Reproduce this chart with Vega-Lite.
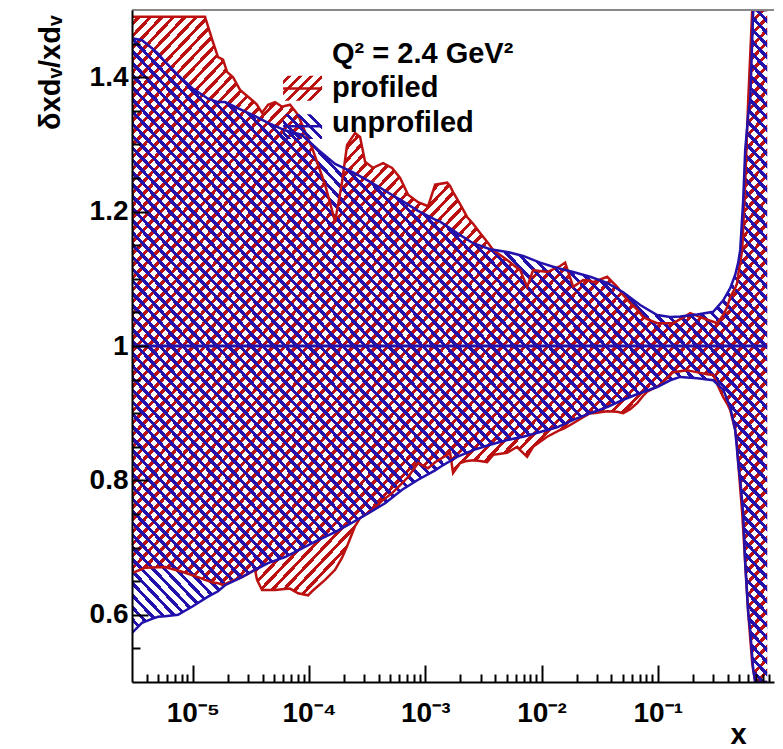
{
"$schema": "https://vega.github.io/schema/vega-lite/v6.json",
"width": 642, "height": 672,
"autosize": {"type": "none"},
"padding": {"left": 132, "top": 10, "right": 9, "bottom": 67},
"background": "white",
"config": {"view": {"stroke": null}, "font": "Liberation Sans"},
"datasets": {
"red": [
{"x":3.0e-6,"hi":1.490,"lo":0.662},{"x":3.880e-6,"hi":1.490,"lo":0.670},{"x":5.768e-6,"hi":1.490,"lo":0.671},{"x":8.080e-6,"hi":1.490,"lo":0.664},{"x":1.109e-5,"hi":1.490,"lo":0.656},{"x":1.274e-5,"hi":1.490,"lo":0.652},{"x":1.493e-5,"hi":1.452,"lo":0.648},{"x":1.649e-5,"hi":1.430,"lo":0.647},{"x":1.820e-5,"hi":1.426,"lo":0.644},{"x":1.971e-5,"hi":1.408,"lo":0.647},{"x":2.220e-5,"hi":1.400,"lo":0.651},{"x":2.550e-5,"hi":1.381,"lo":0.655},{"x":2.988e-5,"hi":1.371,"lo":0.661},{"x":3.432e-5,"hi":1.362,"lo":0.667},{"x":3.571e-5,"hi":1.359,"lo":0.652},{"x":3.942e-5,"hi":1.347,"lo":0.637},{"x":4.442e-5,"hi":1.359,"lo":0.637},{"x":5.100e-5,"hi":1.363,"lo":0.637},{"x":5.861e-5,"hi":1.356,"lo":0.638},{"x":6.866e-5,"hi":1.359,"lo":0.639},{"x":8.048e-5,"hi":1.344,"lo":0.632},{"x":9.809e-5,"hi":1.308,"lo":0.629},{"x":1.062e-4,"hi":1.295,"lo":0.635},{"x":1.374e-4,"hi":1.240,"lo":0.652},{"x":1.675e-4,"hi":1.185,"lo":0.667},{"x":1.924e-4,"hi":1.244,"lo":0.685},{"x":2.125e-4,"hi":1.299,"lo":0.702},{"x":2.490e-4,"hi":1.317,"lo":0.732},{"x":2.749e-4,"hi":1.311,"lo":0.744},{"x":3.035e-4,"hi":1.274,"lo":0.749},{"x":3.556e-4,"hi":1.265,"lo":0.757},{"x":4.337e-4,"hi":1.272,"lo":0.771},{"x":5.182e-4,"hi":1.265,"lo":0.781},{"x":6.074e-4,"hi":1.250,"lo":0.793},{"x":7.117e-4,"hi":1.225,"lo":0.805},{"x":8.676e-4,"hi":1.214,"lo":0.826},{"x":1.058e-3,"hi":1.208,"lo":0.818},{"x":1.215e-3,"hi":1.240,"lo":0.827},{"x":1.541e-3,"hi":1.243,"lo":0.838},{"x":1.635e-3,"hi":1.238,"lo":0.841},{"x":1.735e-3,"hi":1.229,"lo":0.811},{"x":1.994e-3,"hi":1.211,"lo":0.826},{"x":2.291e-3,"hi":1.192,"lo":0.829},{"x":2.580e-3,"hi":1.182,"lo":0.830},{"x":2.964e-3,"hi":1.168,"lo":0.829},{"x":3.405e-3,"hi":1.155,"lo":0.827},{"x":3.835e-3,"hi":1.143,"lo":0.838},{"x":5.060e-3,"hi":1.128,"lo":0.841},{"x":6.170e-3,"hi":1.116,"lo":0.850},{"x":6.547e-3,"hi":1.113,"lo":0.845},{"x":7.522e-3,"hi":1.088,"lo":0.835},{"x":8.474e-3,"hi":1.113,"lo":0.850},{"x":1.118e-2,"hi":1.110,"lo":0.865},{"x":1.447e-2,"hi":1.119,"lo":0.875},{"x":1.597e-2,"hi":1.124,"lo":0.878},{"x":1.872e-2,"hi":1.088,"lo":0.885},{"x":2.282e-2,"hi":1.098,"lo":0.894},{"x":2.622e-2,"hi":1.097,"lo":0.900},{"x":2.782e-2,"hi":1.095,"lo":0.900},{"x":3.671e-2,"hi":1.103,"lo":0.903},{"x":4.476e-2,"hi":1.088,"lo":0.902},{"x":5.040e-2,"hi":1.076,"lo":0.900},{"x":5.790e-2,"hi":1.064,"lo":0.906},{"x":6.652e-2,"hi":1.054,"lo":0.915},{"x":7.493e-2,"hi":1.043,"lo":0.926},{"x":8.111e-2,"hi":1.040,"lo":0.932},{"x":9.888e-2,"hi":1.034,"lo":0.940},{"x":0.1049,"hi":1.034,"lo":0.942},{"x":0.1358,"hi":1.034,"lo":0.961},{"x":0.1792,"hi":1.046,"lo":0.964},{"x":0.1901,"hi":1.049,"lo":0.963},{"x":0.2318,"hi":1.043,"lo":0.960},{"x":0.2663,"hi":1.039,"lo":0.958},{"x":0.3000,"hi":1.036,"lo":0.957},{"x":0.3247,"hi":1.034,"lo":0.943},{"x":0.3657,"hi":1.046,"lo":0.924},{"x":0.3958,"hi":1.058,"lo":0.914},{"x":0.4200,"hi":1.073,"lo":0.905},{"x":0.4638,"hi":1.086,"lo":0.875},{"x":0.4825,"hi":1.094,"lo":0.851},{"x":0.4922,"hi":1.106,"lo":0.826},{"x":0.5328,"hi":1.143,"lo":0.751},{"x":0.5653,"hi":1.243,"lo":0.677},{"x":0.6001,"hi":1.366,"lo":0.603},{"x":0.6496,"hi":1.5,"lo":0.528},{"x":0.6895,"hi":1.5,"lo":0.5},{"x":0.8745,"hi":1.5,"lo":0.5}
],
"blue": [
{"x":3.0e-6,"hi":1.458,"lo":0.573},{"x":3.656e-6,"hi":1.455,"lo":0.588},{"x":4.459e-6,"hi":1.443,"lo":0.594},{"x":5.020e-6,"hi":1.435,"lo":0.597},{"x":5.768e-6,"hi":1.423,"lo":0.598},{"x":7.463e-6,"hi":1.403,"lo":0.600},{"x":9.848e-6,"hi":1.384,"lo":0.612},{"x":1.352e-5,"hi":1.368,"lo":0.627},{"x":1.649e-5,"hi":1.363,"lo":0.635},{"x":1.894e-5,"hi":1.363,"lo":0.644},{"x":2.653e-5,"hi":1.351,"lo":0.656},{"x":3.432e-5,"hi":1.342,"lo":0.667},{"x":4.442e-5,"hi":1.332,"lo":0.677},{"x":6.219e-5,"hi":1.321,"lo":0.686},{"x":8.710e-5,"hi":1.314,"lo":0.699},{"x":1.196e-4,"hi":1.292,"lo":0.711},{"x":1.675e-4,"hi":1.271,"lo":0.723},{"x":2.346e-4,"hi":1.259,"lo":0.737},{"x":3.221e-4,"hi":1.246,"lo":0.751},{"x":4.512e-4,"hi":1.231,"lo":0.766},{"x":6.318e-4,"hi":1.216,"lo":0.786},{"x":8.676e-4,"hi":1.201,"lo":0.801},{"x":1.215e-3,"hi":1.188,"lo":0.815},{"x":1.342e-3,"hi":1.185,"lo":0.820},{"x":1.879e-3,"hi":1.168,"lo":0.835},{"x":2.580e-3,"hi":1.153,"lo":0.845},{"x":3.614e-3,"hi":1.144,"lo":0.853},{"x":5.060e-3,"hi":1.140,"lo":0.860},{"x":6.948e-3,"hi":1.134,"lo":0.865},{"x":9.732e-3,"hi":1.124,"lo":0.872},{"x":1.363e-2,"hi":1.116,"lo":0.879},{"x":1.872e-2,"hi":1.110,"lo":0.890},{"x":2.622e-2,"hi":1.103,"lo":0.900},{"x":3.671e-2,"hi":1.094,"lo":0.909},{"x":5.040e-2,"hi":1.080,"lo":0.920},{"x":7.060e-2,"hi":1.061,"lo":0.930},{"x":9.888e-2,"hi":1.046,"lo":0.939},{"x":0.1279,"hi":1.043,"lo":0.949},{"x":0.1560,"hi":1.044,"lo":0.954},{"x":0.2185,"hi":1.047,"lo":0.952},{"x":0.3000,"hi":1.051,"lo":0.949},{"x":0.3657,"hi":1.068,"lo":0.935},{"x":0.4200,"hi":1.086,"lo":0.909},{"x":0.4638,"hi":1.106,"lo":0.875},{"x":0.4922,"hi":1.124,"lo":0.826},{"x":0.5121,"hi":1.143,"lo":0.801},{"x":0.5434,"hi":1.217,"lo":0.751},{"x":0.5653,"hi":1.292,"lo":0.677},{"x":0.6001,"hi":1.344,"lo":0.603},{"x":0.6243,"hi":1.366,"lo":0.577},{"x":0.6626,"hi":1.5,"lo":0.518},{"x":0.6895,"hi":1.5,"lo":0.5},{"x":0.8745,"hi":1.5,"lo":0.5}
]
},
"layer": [
{"data": {"name": "red"},
 "mark": {"type": "area", "clip": true, "opacity": 1, "fill": {"gradient": "linear", "x1": 0, "y1": 0, "x2": 1, "y2": 1, "stops": [
{"offset":0,"color":"transparent"},{"offset":0,"color":"#b11"},{"offset":0.0035,"color":"#b11"},{"offset":0.0035,"color":"transparent"},
{"offset":0.009,"color":"transparent"},{"offset":0.009,"color":"#b11"},{"offset":0.0125,"color":"#b11"},{"offset":0.0125,"color":"transparent"},
{"offset":0.018,"color":"transparent"},{"offset":0.018,"color":"#b11"},{"offset":0.0215,"color":"#b11"},{"offset":0.0215,"color":"transparent"},
{"offset":0.027,"color":"transparent"},{"offset":0.027,"color":"#b11"},{"offset":0.0305,"color":"#b11"},{"offset":0.0305,"color":"transparent"},
{"offset":0.036,"color":"transparent"},{"offset":0.036,"color":"#b11"},{"offset":0.0395,"color":"#b11"},{"offset":0.0395,"color":"transparent"},
{"offset":0.045,"color":"transparent"},{"offset":0.045,"color":"#b11"},{"offset":0.0485,"color":"#b11"},{"offset":0.0485,"color":"transparent"},
{"offset":0.054,"color":"transparent"},{"offset":0.054,"color":"#b11"},{"offset":0.0575,"color":"#b11"},{"offset":0.0575,"color":"transparent"},
{"offset":0.063,"color":"transparent"},{"offset":0.063,"color":"#b11"},{"offset":0.0665,"color":"#b11"},{"offset":0.0665,"color":"transparent"},
{"offset":0.072,"color":"transparent"},{"offset":0.072,"color":"#b11"},{"offset":0.0755,"color":"#b11"},{"offset":0.0755,"color":"transparent"},
{"offset":0.081,"color":"transparent"},{"offset":0.081,"color":"#b11"},{"offset":0.0845,"color":"#b11"},{"offset":0.0845,"color":"transparent"},
{"offset":0.09,"color":"transparent"},{"offset":0.09,"color":"#b11"},{"offset":0.0935,"color":"#b11"},{"offset":0.0935,"color":"transparent"},
{"offset":0.099,"color":"transparent"},{"offset":0.099,"color":"#b11"},{"offset":0.1025,"color":"#b11"},{"offset":0.1025,"color":"transparent"},
{"offset":0.108,"color":"transparent"},{"offset":0.108,"color":"#b11"},{"offset":0.1115,"color":"#b11"},{"offset":0.1115,"color":"transparent"},
{"offset":0.117,"color":"transparent"},{"offset":0.117,"color":"#b11"},{"offset":0.1205,"color":"#b11"},{"offset":0.1205,"color":"transparent"},
{"offset":0.126,"color":"transparent"},{"offset":0.126,"color":"#b11"},{"offset":0.1295,"color":"#b11"},{"offset":0.1295,"color":"transparent"},
{"offset":0.135,"color":"transparent"},{"offset":0.135,"color":"#b11"},{"offset":0.1385,"color":"#b11"},{"offset":0.1385,"color":"transparent"},
{"offset":0.144,"color":"transparent"},{"offset":0.144,"color":"#b11"},{"offset":0.1475,"color":"#b11"},{"offset":0.1475,"color":"transparent"},
{"offset":0.153,"color":"transparent"},{"offset":0.153,"color":"#b11"},{"offset":0.1565,"color":"#b11"},{"offset":0.1565,"color":"transparent"},
{"offset":0.162,"color":"transparent"},{"offset":0.162,"color":"#b11"},{"offset":0.1655,"color":"#b11"},{"offset":0.1655,"color":"transparent"},
{"offset":0.171,"color":"transparent"},{"offset":0.171,"color":"#b11"},{"offset":0.1745,"color":"#b11"},{"offset":0.1745,"color":"transparent"},
{"offset":0.18,"color":"transparent"},{"offset":0.18,"color":"#b11"},{"offset":0.1835,"color":"#b11"},{"offset":0.1835,"color":"transparent"},
{"offset":0.189,"color":"transparent"},{"offset":0.189,"color":"#b11"},{"offset":0.1925,"color":"#b11"},{"offset":0.1925,"color":"transparent"},
{"offset":0.198,"color":"transparent"},{"offset":0.198,"color":"#b11"},{"offset":0.2015,"color":"#b11"},{"offset":0.2015,"color":"transparent"},
{"offset":0.207,"color":"transparent"},{"offset":0.207,"color":"#b11"},{"offset":0.2105,"color":"#b11"},{"offset":0.2105,"color":"transparent"},
{"offset":0.216,"color":"transparent"},{"offset":0.216,"color":"#b11"},{"offset":0.2195,"color":"#b11"},{"offset":0.2195,"color":"transparent"},
{"offset":0.225,"color":"transparent"},{"offset":0.225,"color":"#b11"},{"offset":0.2285,"color":"#b11"},{"offset":0.2285,"color":"transparent"},
{"offset":0.234,"color":"transparent"},{"offset":0.234,"color":"#b11"},{"offset":0.2375,"color":"#b11"},{"offset":0.2375,"color":"transparent"},
{"offset":0.243,"color":"transparent"},{"offset":0.243,"color":"#b11"},{"offset":0.2465,"color":"#b11"},{"offset":0.2465,"color":"transparent"},
{"offset":0.252,"color":"transparent"},{"offset":0.252,"color":"#b11"},{"offset":0.2555,"color":"#b11"},{"offset":0.2555,"color":"transparent"},
{"offset":0.261,"color":"transparent"},{"offset":0.261,"color":"#b11"},{"offset":0.2645,"color":"#b11"},{"offset":0.2645,"color":"transparent"},
{"offset":0.27,"color":"transparent"},{"offset":0.27,"color":"#b11"},{"offset":0.2735,"color":"#b11"},{"offset":0.2735,"color":"transparent"},
{"offset":0.279,"color":"transparent"},{"offset":0.279,"color":"#b11"},{"offset":0.2825,"color":"#b11"},{"offset":0.2825,"color":"transparent"},
{"offset":0.288,"color":"transparent"},{"offset":0.288,"color":"#b11"},{"offset":0.2915,"color":"#b11"},{"offset":0.2915,"color":"transparent"},
{"offset":0.297,"color":"transparent"},{"offset":0.297,"color":"#b11"},{"offset":0.3005,"color":"#b11"},{"offset":0.3005,"color":"transparent"},
{"offset":0.306,"color":"transparent"},{"offset":0.306,"color":"#b11"},{"offset":0.3095,"color":"#b11"},{"offset":0.3095,"color":"transparent"},
{"offset":0.315,"color":"transparent"},{"offset":0.315,"color":"#b11"},{"offset":0.3185,"color":"#b11"},{"offset":0.3185,"color":"transparent"},
{"offset":0.324,"color":"transparent"},{"offset":0.324,"color":"#b11"},{"offset":0.3275,"color":"#b11"},{"offset":0.3275,"color":"transparent"},
{"offset":0.333,"color":"transparent"},{"offset":0.333,"color":"#b11"},{"offset":0.3365,"color":"#b11"},{"offset":0.3365,"color":"transparent"},
{"offset":0.342,"color":"transparent"},{"offset":0.342,"color":"#b11"},{"offset":0.3455,"color":"#b11"},{"offset":0.3455,"color":"transparent"},
{"offset":0.351,"color":"transparent"},{"offset":0.351,"color":"#b11"},{"offset":0.3545,"color":"#b11"},{"offset":0.3545,"color":"transparent"},
{"offset":0.36,"color":"transparent"},{"offset":0.36,"color":"#b11"},{"offset":0.3635,"color":"#b11"},{"offset":0.3635,"color":"transparent"},
{"offset":0.369,"color":"transparent"},{"offset":0.369,"color":"#b11"},{"offset":0.3725,"color":"#b11"},{"offset":0.3725,"color":"transparent"},
{"offset":0.378,"color":"transparent"},{"offset":0.378,"color":"#b11"},{"offset":0.3815,"color":"#b11"},{"offset":0.3815,"color":"transparent"},
{"offset":0.387,"color":"transparent"},{"offset":0.387,"color":"#b11"},{"offset":0.3905,"color":"#b11"},{"offset":0.3905,"color":"transparent"},
{"offset":0.396,"color":"transparent"},{"offset":0.396,"color":"#b11"},{"offset":0.3995,"color":"#b11"},{"offset":0.3995,"color":"transparent"},
{"offset":0.405,"color":"transparent"},{"offset":0.405,"color":"#b11"},{"offset":0.4085,"color":"#b11"},{"offset":0.4085,"color":"transparent"},
{"offset":0.414,"color":"transparent"},{"offset":0.414,"color":"#b11"},{"offset":0.4175,"color":"#b11"},{"offset":0.4175,"color":"transparent"},
{"offset":0.423,"color":"transparent"},{"offset":0.423,"color":"#b11"},{"offset":0.4265,"color":"#b11"},{"offset":0.4265,"color":"transparent"},
{"offset":0.432,"color":"transparent"},{"offset":0.432,"color":"#b11"},{"offset":0.4355,"color":"#b11"},{"offset":0.4355,"color":"transparent"},
{"offset":0.441,"color":"transparent"},{"offset":0.441,"color":"#b11"},{"offset":0.4445,"color":"#b11"},{"offset":0.4445,"color":"transparent"},
{"offset":0.45,"color":"transparent"},{"offset":0.45,"color":"#b11"},{"offset":0.4535,"color":"#b11"},{"offset":0.4535,"color":"transparent"},
{"offset":0.459,"color":"transparent"},{"offset":0.459,"color":"#b11"},{"offset":0.4625,"color":"#b11"},{"offset":0.4625,"color":"transparent"},
{"offset":0.468,"color":"transparent"},{"offset":0.468,"color":"#b11"},{"offset":0.4715,"color":"#b11"},{"offset":0.4715,"color":"transparent"},
{"offset":0.477,"color":"transparent"},{"offset":0.477,"color":"#b11"},{"offset":0.4805,"color":"#b11"},{"offset":0.4805,"color":"transparent"},
{"offset":0.486,"color":"transparent"},{"offset":0.486,"color":"#b11"},{"offset":0.4895,"color":"#b11"},{"offset":0.4895,"color":"transparent"},
{"offset":0.495,"color":"transparent"},{"offset":0.495,"color":"#b11"},{"offset":0.4985,"color":"#b11"},{"offset":0.4985,"color":"transparent"},
{"offset":0.504,"color":"transparent"},{"offset":0.504,"color":"#b11"},{"offset":0.5075,"color":"#b11"},{"offset":0.5075,"color":"transparent"},
{"offset":0.513,"color":"transparent"},{"offset":0.513,"color":"#b11"},{"offset":0.5165,"color":"#b11"},{"offset":0.5165,"color":"transparent"},
{"offset":0.522,"color":"transparent"},{"offset":0.522,"color":"#b11"},{"offset":0.5255,"color":"#b11"},{"offset":0.5255,"color":"transparent"},
{"offset":0.531,"color":"transparent"},{"offset":0.531,"color":"#b11"},{"offset":0.5345,"color":"#b11"},{"offset":0.5345,"color":"transparent"},
{"offset":0.54,"color":"transparent"},{"offset":0.54,"color":"#b11"},{"offset":0.5435,"color":"#b11"},{"offset":0.5435,"color":"transparent"},
{"offset":0.549,"color":"transparent"},{"offset":0.549,"color":"#b11"},{"offset":0.5525,"color":"#b11"},{"offset":0.5525,"color":"transparent"},
{"offset":0.558,"color":"transparent"},{"offset":0.558,"color":"#b11"},{"offset":0.5615,"color":"#b11"},{"offset":0.5615,"color":"transparent"},
{"offset":0.567,"color":"transparent"},{"offset":0.567,"color":"#b11"},{"offset":0.5705,"color":"#b11"},{"offset":0.5705,"color":"transparent"},
{"offset":0.576,"color":"transparent"},{"offset":0.576,"color":"#b11"},{"offset":0.5795,"color":"#b11"},{"offset":0.5795,"color":"transparent"},
{"offset":0.585,"color":"transparent"},{"offset":0.585,"color":"#b11"},{"offset":0.5885,"color":"#b11"},{"offset":0.5885,"color":"transparent"},
{"offset":0.594,"color":"transparent"},{"offset":0.594,"color":"#b11"},{"offset":0.5975,"color":"#b11"},{"offset":0.5975,"color":"transparent"},
{"offset":0.603,"color":"transparent"},{"offset":0.603,"color":"#b11"},{"offset":0.6065,"color":"#b11"},{"offset":0.6065,"color":"transparent"},
{"offset":0.612,"color":"transparent"},{"offset":0.612,"color":"#b11"},{"offset":0.6155,"color":"#b11"},{"offset":0.6155,"color":"transparent"},
{"offset":0.621,"color":"transparent"},{"offset":0.621,"color":"#b11"},{"offset":0.6245,"color":"#b11"},{"offset":0.6245,"color":"transparent"},
{"offset":0.63,"color":"transparent"},{"offset":0.63,"color":"#b11"},{"offset":0.6335,"color":"#b11"},{"offset":0.6335,"color":"transparent"},
{"offset":0.639,"color":"transparent"},{"offset":0.639,"color":"#b11"},{"offset":0.6425,"color":"#b11"},{"offset":0.6425,"color":"transparent"},
{"offset":0.648,"color":"transparent"},{"offset":0.648,"color":"#b11"},{"offset":0.6515,"color":"#b11"},{"offset":0.6515,"color":"transparent"},
{"offset":0.657,"color":"transparent"},{"offset":0.657,"color":"#b11"},{"offset":0.6605,"color":"#b11"},{"offset":0.6605,"color":"transparent"},
{"offset":0.666,"color":"transparent"},{"offset":0.666,"color":"#b11"},{"offset":0.6695,"color":"#b11"},{"offset":0.6695,"color":"transparent"},
{"offset":0.675,"color":"transparent"},{"offset":0.675,"color":"#b11"},{"offset":0.6785,"color":"#b11"},{"offset":0.6785,"color":"transparent"},
{"offset":0.684,"color":"transparent"},{"offset":0.684,"color":"#b11"},{"offset":0.6875,"color":"#b11"},{"offset":0.6875,"color":"transparent"},
{"offset":0.693,"color":"transparent"},{"offset":0.693,"color":"#b11"},{"offset":0.6965,"color":"#b11"},{"offset":0.6965,"color":"transparent"},
{"offset":0.702,"color":"transparent"},{"offset":0.702,"color":"#b11"},{"offset":0.7055,"color":"#b11"},{"offset":0.7055,"color":"transparent"},
{"offset":0.711,"color":"transparent"},{"offset":0.711,"color":"#b11"},{"offset":0.7145,"color":"#b11"},{"offset":0.7145,"color":"transparent"},
{"offset":0.72,"color":"transparent"},{"offset":0.72,"color":"#b11"},{"offset":0.7235,"color":"#b11"},{"offset":0.7235,"color":"transparent"},
{"offset":0.729,"color":"transparent"},{"offset":0.729,"color":"#b11"},{"offset":0.7325,"color":"#b11"},{"offset":0.7325,"color":"transparent"},
{"offset":0.738,"color":"transparent"},{"offset":0.738,"color":"#b11"},{"offset":0.7415,"color":"#b11"},{"offset":0.7415,"color":"transparent"},
{"offset":0.747,"color":"transparent"},{"offset":0.747,"color":"#b11"},{"offset":0.7505,"color":"#b11"},{"offset":0.7505,"color":"transparent"},
{"offset":0.756,"color":"transparent"},{"offset":0.756,"color":"#b11"},{"offset":0.7595,"color":"#b11"},{"offset":0.7595,"color":"transparent"},
{"offset":0.765,"color":"transparent"},{"offset":0.765,"color":"#b11"},{"offset":0.7685,"color":"#b11"},{"offset":0.7685,"color":"transparent"},
{"offset":0.774,"color":"transparent"},{"offset":0.774,"color":"#b11"},{"offset":0.7775,"color":"#b11"},{"offset":0.7775,"color":"transparent"},
{"offset":0.783,"color":"transparent"},{"offset":0.783,"color":"#b11"},{"offset":0.7865,"color":"#b11"},{"offset":0.7865,"color":"transparent"},
{"offset":0.792,"color":"transparent"},{"offset":0.792,"color":"#b11"},{"offset":0.7955,"color":"#b11"},{"offset":0.7955,"color":"transparent"},
{"offset":0.801,"color":"transparent"},{"offset":0.801,"color":"#b11"},{"offset":0.8045,"color":"#b11"},{"offset":0.8045,"color":"transparent"},
{"offset":0.81,"color":"transparent"},{"offset":0.81,"color":"#b11"},{"offset":0.8135,"color":"#b11"},{"offset":0.8135,"color":"transparent"},
{"offset":0.819,"color":"transparent"},{"offset":0.819,"color":"#b11"},{"offset":0.8225,"color":"#b11"},{"offset":0.8225,"color":"transparent"},
{"offset":0.828,"color":"transparent"},{"offset":0.828,"color":"#b11"},{"offset":0.8315,"color":"#b11"},{"offset":0.8315,"color":"transparent"},
{"offset":0.837,"color":"transparent"},{"offset":0.837,"color":"#b11"},{"offset":0.8405,"color":"#b11"},{"offset":0.8405,"color":"transparent"},
{"offset":0.846,"color":"transparent"},{"offset":0.846,"color":"#b11"},{"offset":0.8495,"color":"#b11"},{"offset":0.8495,"color":"transparent"},
{"offset":0.855,"color":"transparent"},{"offset":0.855,"color":"#b11"},{"offset":0.8585,"color":"#b11"},{"offset":0.8585,"color":"transparent"},
{"offset":0.864,"color":"transparent"},{"offset":0.864,"color":"#b11"},{"offset":0.8675,"color":"#b11"},{"offset":0.8675,"color":"transparent"},
{"offset":0.873,"color":"transparent"},{"offset":0.873,"color":"#b11"},{"offset":0.8765,"color":"#b11"},{"offset":0.8765,"color":"transparent"},
{"offset":0.882,"color":"transparent"},{"offset":0.882,"color":"#b11"},{"offset":0.8855,"color":"#b11"},{"offset":0.8855,"color":"transparent"},
{"offset":0.891,"color":"transparent"},{"offset":0.891,"color":"#b11"},{"offset":0.8945,"color":"#b11"},{"offset":0.8945,"color":"transparent"},
{"offset":0.9,"color":"transparent"},{"offset":0.9,"color":"#b11"},{"offset":0.9035,"color":"#b11"},{"offset":0.9035,"color":"transparent"},
{"offset":0.909,"color":"transparent"},{"offset":0.909,"color":"#b11"},{"offset":0.9125,"color":"#b11"},{"offset":0.9125,"color":"transparent"},
{"offset":0.918,"color":"transparent"},{"offset":0.918,"color":"#b11"},{"offset":0.9215,"color":"#b11"},{"offset":0.9215,"color":"transparent"},
{"offset":0.927,"color":"transparent"},{"offset":0.927,"color":"#b11"},{"offset":0.9305,"color":"#b11"},{"offset":0.9305,"color":"transparent"},
{"offset":0.936,"color":"transparent"},{"offset":0.936,"color":"#b11"},{"offset":0.9395,"color":"#b11"},{"offset":0.9395,"color":"transparent"},
{"offset":0.945,"color":"transparent"},{"offset":0.945,"color":"#b11"},{"offset":0.9485,"color":"#b11"},{"offset":0.9485,"color":"transparent"},
{"offset":0.954,"color":"transparent"},{"offset":0.954,"color":"#b11"},{"offset":0.9575,"color":"#b11"},{"offset":0.9575,"color":"transparent"},
{"offset":0.963,"color":"transparent"},{"offset":0.963,"color":"#b11"},{"offset":0.9665,"color":"#b11"},{"offset":0.9665,"color":"transparent"},
{"offset":0.972,"color":"transparent"},{"offset":0.972,"color":"#b11"},{"offset":0.9755,"color":"#b11"},{"offset":0.9755,"color":"transparent"},
{"offset":0.981,"color":"transparent"},{"offset":0.981,"color":"#b11"},{"offset":0.9845,"color":"#b11"},{"offset":0.9845,"color":"transparent"},
{"offset":0.99,"color":"transparent"},{"offset":0.99,"color":"#b11"},{"offset":0.9935,"color":"#b11"},{"offset":0.9935,"color":"transparent"}
]}},
 "encoding": {
  "x": {"field": "x", "type": "quantitative",
   "scale": {"type": "log", "domain": [3e-6, 1], "nice": false},
   "axis": {"values": [4e-6,5e-6,6e-6,7e-6,8e-6,9e-6,1e-5,2e-5,3e-5,4e-5,5e-5,6e-5,7e-5,8e-5,9e-5,1e-4,2e-4,3e-4,4e-4,5e-4,6e-4,7e-4,8e-4,9e-4,0.001,0.002,0.003,0.004,0.005,0.006,0.007,0.008,0.009,0.01,0.02,0.03,0.04,0.05,0.06,0.07,0.08,0.09,0.1,0.2,0.3,0.4,0.5,0.6,0.7,0.8,0.9],
    "tickCount": 200,
    "labelExpr": "abs(log(datum.value)/LN10-round(log(datum.value)/LN10))<0.01 ? '10⁻' + ['⁰','¹','²','³','⁴','⁵','⁶'][-round(log(datum.value)/LN10)] : ''",
    "tickSize": {"condition": {"test": "abs(log(datum.value)/LN10-round(log(datum.value)/LN10))<0.01", "value": -17}, "value": -8},
    "tickColor": "black", "tickWidth": 2, "domainColor": "black", "domainWidth": 2, "grid": false, "zindex": 1,
    "labelPadding": 34, "labelFontSize": 28, "labelFontWeight": "bold", "labelColor": "black", "labelFont": "Liberation Sans",
    "labelOverlap": false, "labelFlush": false,
    "title": "x", "titleFontSize": 29, "titleFontWeight": "bold", "titleColor": "black", "titleFont": "Liberation Sans",
    "titleX": 606, "titleY": 52, "titleAlign": "center", "titleBaseline": "middle"}},
  "y": {"field": "hi", "type": "quantitative",
   "scale": {"domain": [0.5, 1.5], "nice": false, "zero": false},
   "axis": {"values": [0.55,0.6,0.65,0.7,0.75,0.8,0.85,0.9,0.95,1,1.05,1.1,1.15,1.2,1.25,1.3,1.35,1.4,1.45],
    "tickCount": 200,
    "labelExpr": "abs(datum.value*5-round(datum.value*5))<0.001 ? '' + round(datum.value*10)/10 : ''",
    "tickSize": -16,
    "tickDash": {"condition": {"test": "abs(datum.value*5-round(datum.value*5))<0.001", "value": [20, 2]}, "value": [8, 30]},
    "tickColor": "black", "tickWidth": 2, "domainColor": "black", "domainWidth": 2, "grid": false, "zindex": 1,
    "labelPadding": 20, "labelFontSize": 28, "labelFontWeight": "bold", "labelColor": "black", "labelFont": "Liberation Sans",
    "labelOverlap": false, "labelFlush": false,
    "title": "δxdᵥ/xdᵥ", "titleFontSize": 29, "titleFontWeight": "bold", "titleColor": "black", "titleFont": "Liberation Sans",
    "titleAngle": 270, "titleAlign": "right", "titleBaseline": "middle", "titleX": -82, "titleY": 5}},
  "y2": {"field": "lo"}
 }},
{"data": {"name": "blue"},
 "mark": {"type": "area", "clip": true, "opacity": 1, "fill": {"gradient": "linear", "x1": 0, "y1": 1, "x2": 1, "y2": 0, "stops": [
{"offset":0,"color":"transparent"},{"offset":0,"color":"#21a"},{"offset":0.0035,"color":"#21a"},{"offset":0.0035,"color":"transparent"},
{"offset":0.009,"color":"transparent"},{"offset":0.009,"color":"#21a"},{"offset":0.0125,"color":"#21a"},{"offset":0.0125,"color":"transparent"},
{"offset":0.018,"color":"transparent"},{"offset":0.018,"color":"#21a"},{"offset":0.0215,"color":"#21a"},{"offset":0.0215,"color":"transparent"},
{"offset":0.027,"color":"transparent"},{"offset":0.027,"color":"#21a"},{"offset":0.0305,"color":"#21a"},{"offset":0.0305,"color":"transparent"},
{"offset":0.036,"color":"transparent"},{"offset":0.036,"color":"#21a"},{"offset":0.0395,"color":"#21a"},{"offset":0.0395,"color":"transparent"},
{"offset":0.045,"color":"transparent"},{"offset":0.045,"color":"#21a"},{"offset":0.0485,"color":"#21a"},{"offset":0.0485,"color":"transparent"},
{"offset":0.054,"color":"transparent"},{"offset":0.054,"color":"#21a"},{"offset":0.0575,"color":"#21a"},{"offset":0.0575,"color":"transparent"},
{"offset":0.063,"color":"transparent"},{"offset":0.063,"color":"#21a"},{"offset":0.0665,"color":"#21a"},{"offset":0.0665,"color":"transparent"},
{"offset":0.072,"color":"transparent"},{"offset":0.072,"color":"#21a"},{"offset":0.0755,"color":"#21a"},{"offset":0.0755,"color":"transparent"},
{"offset":0.081,"color":"transparent"},{"offset":0.081,"color":"#21a"},{"offset":0.0845,"color":"#21a"},{"offset":0.0845,"color":"transparent"},
{"offset":0.09,"color":"transparent"},{"offset":0.09,"color":"#21a"},{"offset":0.0935,"color":"#21a"},{"offset":0.0935,"color":"transparent"},
{"offset":0.099,"color":"transparent"},{"offset":0.099,"color":"#21a"},{"offset":0.1025,"color":"#21a"},{"offset":0.1025,"color":"transparent"},
{"offset":0.108,"color":"transparent"},{"offset":0.108,"color":"#21a"},{"offset":0.1115,"color":"#21a"},{"offset":0.1115,"color":"transparent"},
{"offset":0.117,"color":"transparent"},{"offset":0.117,"color":"#21a"},{"offset":0.1205,"color":"#21a"},{"offset":0.1205,"color":"transparent"},
{"offset":0.126,"color":"transparent"},{"offset":0.126,"color":"#21a"},{"offset":0.1295,"color":"#21a"},{"offset":0.1295,"color":"transparent"},
{"offset":0.135,"color":"transparent"},{"offset":0.135,"color":"#21a"},{"offset":0.1385,"color":"#21a"},{"offset":0.1385,"color":"transparent"},
{"offset":0.144,"color":"transparent"},{"offset":0.144,"color":"#21a"},{"offset":0.1475,"color":"#21a"},{"offset":0.1475,"color":"transparent"},
{"offset":0.153,"color":"transparent"},{"offset":0.153,"color":"#21a"},{"offset":0.1565,"color":"#21a"},{"offset":0.1565,"color":"transparent"},
{"offset":0.162,"color":"transparent"},{"offset":0.162,"color":"#21a"},{"offset":0.1655,"color":"#21a"},{"offset":0.1655,"color":"transparent"},
{"offset":0.171,"color":"transparent"},{"offset":0.171,"color":"#21a"},{"offset":0.1745,"color":"#21a"},{"offset":0.1745,"color":"transparent"},
{"offset":0.18,"color":"transparent"},{"offset":0.18,"color":"#21a"},{"offset":0.1835,"color":"#21a"},{"offset":0.1835,"color":"transparent"},
{"offset":0.189,"color":"transparent"},{"offset":0.189,"color":"#21a"},{"offset":0.1925,"color":"#21a"},{"offset":0.1925,"color":"transparent"},
{"offset":0.198,"color":"transparent"},{"offset":0.198,"color":"#21a"},{"offset":0.2015,"color":"#21a"},{"offset":0.2015,"color":"transparent"},
{"offset":0.207,"color":"transparent"},{"offset":0.207,"color":"#21a"},{"offset":0.2105,"color":"#21a"},{"offset":0.2105,"color":"transparent"},
{"offset":0.216,"color":"transparent"},{"offset":0.216,"color":"#21a"},{"offset":0.2195,"color":"#21a"},{"offset":0.2195,"color":"transparent"},
{"offset":0.225,"color":"transparent"},{"offset":0.225,"color":"#21a"},{"offset":0.2285,"color":"#21a"},{"offset":0.2285,"color":"transparent"},
{"offset":0.234,"color":"transparent"},{"offset":0.234,"color":"#21a"},{"offset":0.2375,"color":"#21a"},{"offset":0.2375,"color":"transparent"},
{"offset":0.243,"color":"transparent"},{"offset":0.243,"color":"#21a"},{"offset":0.2465,"color":"#21a"},{"offset":0.2465,"color":"transparent"},
{"offset":0.252,"color":"transparent"},{"offset":0.252,"color":"#21a"},{"offset":0.2555,"color":"#21a"},{"offset":0.2555,"color":"transparent"},
{"offset":0.261,"color":"transparent"},{"offset":0.261,"color":"#21a"},{"offset":0.2645,"color":"#21a"},{"offset":0.2645,"color":"transparent"},
{"offset":0.27,"color":"transparent"},{"offset":0.27,"color":"#21a"},{"offset":0.2735,"color":"#21a"},{"offset":0.2735,"color":"transparent"},
{"offset":0.279,"color":"transparent"},{"offset":0.279,"color":"#21a"},{"offset":0.2825,"color":"#21a"},{"offset":0.2825,"color":"transparent"},
{"offset":0.288,"color":"transparent"},{"offset":0.288,"color":"#21a"},{"offset":0.2915,"color":"#21a"},{"offset":0.2915,"color":"transparent"},
{"offset":0.297,"color":"transparent"},{"offset":0.297,"color":"#21a"},{"offset":0.3005,"color":"#21a"},{"offset":0.3005,"color":"transparent"},
{"offset":0.306,"color":"transparent"},{"offset":0.306,"color":"#21a"},{"offset":0.3095,"color":"#21a"},{"offset":0.3095,"color":"transparent"},
{"offset":0.315,"color":"transparent"},{"offset":0.315,"color":"#21a"},{"offset":0.3185,"color":"#21a"},{"offset":0.3185,"color":"transparent"},
{"offset":0.324,"color":"transparent"},{"offset":0.324,"color":"#21a"},{"offset":0.3275,"color":"#21a"},{"offset":0.3275,"color":"transparent"},
{"offset":0.333,"color":"transparent"},{"offset":0.333,"color":"#21a"},{"offset":0.3365,"color":"#21a"},{"offset":0.3365,"color":"transparent"},
{"offset":0.342,"color":"transparent"},{"offset":0.342,"color":"#21a"},{"offset":0.3455,"color":"#21a"},{"offset":0.3455,"color":"transparent"},
{"offset":0.351,"color":"transparent"},{"offset":0.351,"color":"#21a"},{"offset":0.3545,"color":"#21a"},{"offset":0.3545,"color":"transparent"},
{"offset":0.36,"color":"transparent"},{"offset":0.36,"color":"#21a"},{"offset":0.3635,"color":"#21a"},{"offset":0.3635,"color":"transparent"},
{"offset":0.369,"color":"transparent"},{"offset":0.369,"color":"#21a"},{"offset":0.3725,"color":"#21a"},{"offset":0.3725,"color":"transparent"},
{"offset":0.378,"color":"transparent"},{"offset":0.378,"color":"#21a"},{"offset":0.3815,"color":"#21a"},{"offset":0.3815,"color":"transparent"},
{"offset":0.387,"color":"transparent"},{"offset":0.387,"color":"#21a"},{"offset":0.3905,"color":"#21a"},{"offset":0.3905,"color":"transparent"},
{"offset":0.396,"color":"transparent"},{"offset":0.396,"color":"#21a"},{"offset":0.3995,"color":"#21a"},{"offset":0.3995,"color":"transparent"},
{"offset":0.405,"color":"transparent"},{"offset":0.405,"color":"#21a"},{"offset":0.4085,"color":"#21a"},{"offset":0.4085,"color":"transparent"},
{"offset":0.414,"color":"transparent"},{"offset":0.414,"color":"#21a"},{"offset":0.4175,"color":"#21a"},{"offset":0.4175,"color":"transparent"},
{"offset":0.423,"color":"transparent"},{"offset":0.423,"color":"#21a"},{"offset":0.4265,"color":"#21a"},{"offset":0.4265,"color":"transparent"},
{"offset":0.432,"color":"transparent"},{"offset":0.432,"color":"#21a"},{"offset":0.4355,"color":"#21a"},{"offset":0.4355,"color":"transparent"},
{"offset":0.441,"color":"transparent"},{"offset":0.441,"color":"#21a"},{"offset":0.4445,"color":"#21a"},{"offset":0.4445,"color":"transparent"},
{"offset":0.45,"color":"transparent"},{"offset":0.45,"color":"#21a"},{"offset":0.4535,"color":"#21a"},{"offset":0.4535,"color":"transparent"},
{"offset":0.459,"color":"transparent"},{"offset":0.459,"color":"#21a"},{"offset":0.4625,"color":"#21a"},{"offset":0.4625,"color":"transparent"},
{"offset":0.468,"color":"transparent"},{"offset":0.468,"color":"#21a"},{"offset":0.4715,"color":"#21a"},{"offset":0.4715,"color":"transparent"},
{"offset":0.477,"color":"transparent"},{"offset":0.477,"color":"#21a"},{"offset":0.4805,"color":"#21a"},{"offset":0.4805,"color":"transparent"},
{"offset":0.486,"color":"transparent"},{"offset":0.486,"color":"#21a"},{"offset":0.4895,"color":"#21a"},{"offset":0.4895,"color":"transparent"},
{"offset":0.495,"color":"transparent"},{"offset":0.495,"color":"#21a"},{"offset":0.4985,"color":"#21a"},{"offset":0.4985,"color":"transparent"},
{"offset":0.504,"color":"transparent"},{"offset":0.504,"color":"#21a"},{"offset":0.5075,"color":"#21a"},{"offset":0.5075,"color":"transparent"},
{"offset":0.513,"color":"transparent"},{"offset":0.513,"color":"#21a"},{"offset":0.5165,"color":"#21a"},{"offset":0.5165,"color":"transparent"},
{"offset":0.522,"color":"transparent"},{"offset":0.522,"color":"#21a"},{"offset":0.5255,"color":"#21a"},{"offset":0.5255,"color":"transparent"},
{"offset":0.531,"color":"transparent"},{"offset":0.531,"color":"#21a"},{"offset":0.5345,"color":"#21a"},{"offset":0.5345,"color":"transparent"},
{"offset":0.54,"color":"transparent"},{"offset":0.54,"color":"#21a"},{"offset":0.5435,"color":"#21a"},{"offset":0.5435,"color":"transparent"},
{"offset":0.549,"color":"transparent"},{"offset":0.549,"color":"#21a"},{"offset":0.5525,"color":"#21a"},{"offset":0.5525,"color":"transparent"},
{"offset":0.558,"color":"transparent"},{"offset":0.558,"color":"#21a"},{"offset":0.5615,"color":"#21a"},{"offset":0.5615,"color":"transparent"},
{"offset":0.567,"color":"transparent"},{"offset":0.567,"color":"#21a"},{"offset":0.5705,"color":"#21a"},{"offset":0.5705,"color":"transparent"},
{"offset":0.576,"color":"transparent"},{"offset":0.576,"color":"#21a"},{"offset":0.5795,"color":"#21a"},{"offset":0.5795,"color":"transparent"},
{"offset":0.585,"color":"transparent"},{"offset":0.585,"color":"#21a"},{"offset":0.5885,"color":"#21a"},{"offset":0.5885,"color":"transparent"},
{"offset":0.594,"color":"transparent"},{"offset":0.594,"color":"#21a"},{"offset":0.5975,"color":"#21a"},{"offset":0.5975,"color":"transparent"},
{"offset":0.603,"color":"transparent"},{"offset":0.603,"color":"#21a"},{"offset":0.6065,"color":"#21a"},{"offset":0.6065,"color":"transparent"},
{"offset":0.612,"color":"transparent"},{"offset":0.612,"color":"#21a"},{"offset":0.6155,"color":"#21a"},{"offset":0.6155,"color":"transparent"},
{"offset":0.621,"color":"transparent"},{"offset":0.621,"color":"#21a"},{"offset":0.6245,"color":"#21a"},{"offset":0.6245,"color":"transparent"},
{"offset":0.63,"color":"transparent"},{"offset":0.63,"color":"#21a"},{"offset":0.6335,"color":"#21a"},{"offset":0.6335,"color":"transparent"},
{"offset":0.639,"color":"transparent"},{"offset":0.639,"color":"#21a"},{"offset":0.6425,"color":"#21a"},{"offset":0.6425,"color":"transparent"},
{"offset":0.648,"color":"transparent"},{"offset":0.648,"color":"#21a"},{"offset":0.6515,"color":"#21a"},{"offset":0.6515,"color":"transparent"},
{"offset":0.657,"color":"transparent"},{"offset":0.657,"color":"#21a"},{"offset":0.6605,"color":"#21a"},{"offset":0.6605,"color":"transparent"},
{"offset":0.666,"color":"transparent"},{"offset":0.666,"color":"#21a"},{"offset":0.6695,"color":"#21a"},{"offset":0.6695,"color":"transparent"},
{"offset":0.675,"color":"transparent"},{"offset":0.675,"color":"#21a"},{"offset":0.6785,"color":"#21a"},{"offset":0.6785,"color":"transparent"},
{"offset":0.684,"color":"transparent"},{"offset":0.684,"color":"#21a"},{"offset":0.6875,"color":"#21a"},{"offset":0.6875,"color":"transparent"},
{"offset":0.693,"color":"transparent"},{"offset":0.693,"color":"#21a"},{"offset":0.6965,"color":"#21a"},{"offset":0.6965,"color":"transparent"},
{"offset":0.702,"color":"transparent"},{"offset":0.702,"color":"#21a"},{"offset":0.7055,"color":"#21a"},{"offset":0.7055,"color":"transparent"},
{"offset":0.711,"color":"transparent"},{"offset":0.711,"color":"#21a"},{"offset":0.7145,"color":"#21a"},{"offset":0.7145,"color":"transparent"},
{"offset":0.72,"color":"transparent"},{"offset":0.72,"color":"#21a"},{"offset":0.7235,"color":"#21a"},{"offset":0.7235,"color":"transparent"},
{"offset":0.729,"color":"transparent"},{"offset":0.729,"color":"#21a"},{"offset":0.7325,"color":"#21a"},{"offset":0.7325,"color":"transparent"},
{"offset":0.738,"color":"transparent"},{"offset":0.738,"color":"#21a"},{"offset":0.7415,"color":"#21a"},{"offset":0.7415,"color":"transparent"},
{"offset":0.747,"color":"transparent"},{"offset":0.747,"color":"#21a"},{"offset":0.7505,"color":"#21a"},{"offset":0.7505,"color":"transparent"},
{"offset":0.756,"color":"transparent"},{"offset":0.756,"color":"#21a"},{"offset":0.7595,"color":"#21a"},{"offset":0.7595,"color":"transparent"},
{"offset":0.765,"color":"transparent"},{"offset":0.765,"color":"#21a"},{"offset":0.7685,"color":"#21a"},{"offset":0.7685,"color":"transparent"},
{"offset":0.774,"color":"transparent"},{"offset":0.774,"color":"#21a"},{"offset":0.7775,"color":"#21a"},{"offset":0.7775,"color":"transparent"},
{"offset":0.783,"color":"transparent"},{"offset":0.783,"color":"#21a"},{"offset":0.7865,"color":"#21a"},{"offset":0.7865,"color":"transparent"},
{"offset":0.792,"color":"transparent"},{"offset":0.792,"color":"#21a"},{"offset":0.7955,"color":"#21a"},{"offset":0.7955,"color":"transparent"},
{"offset":0.801,"color":"transparent"},{"offset":0.801,"color":"#21a"},{"offset":0.8045,"color":"#21a"},{"offset":0.8045,"color":"transparent"},
{"offset":0.81,"color":"transparent"},{"offset":0.81,"color":"#21a"},{"offset":0.8135,"color":"#21a"},{"offset":0.8135,"color":"transparent"},
{"offset":0.819,"color":"transparent"},{"offset":0.819,"color":"#21a"},{"offset":0.8225,"color":"#21a"},{"offset":0.8225,"color":"transparent"},
{"offset":0.828,"color":"transparent"},{"offset":0.828,"color":"#21a"},{"offset":0.8315,"color":"#21a"},{"offset":0.8315,"color":"transparent"},
{"offset":0.837,"color":"transparent"},{"offset":0.837,"color":"#21a"},{"offset":0.8405,"color":"#21a"},{"offset":0.8405,"color":"transparent"},
{"offset":0.846,"color":"transparent"},{"offset":0.846,"color":"#21a"},{"offset":0.8495,"color":"#21a"},{"offset":0.8495,"color":"transparent"},
{"offset":0.855,"color":"transparent"},{"offset":0.855,"color":"#21a"},{"offset":0.8585,"color":"#21a"},{"offset":0.8585,"color":"transparent"},
{"offset":0.864,"color":"transparent"},{"offset":0.864,"color":"#21a"},{"offset":0.8675,"color":"#21a"},{"offset":0.8675,"color":"transparent"},
{"offset":0.873,"color":"transparent"},{"offset":0.873,"color":"#21a"},{"offset":0.8765,"color":"#21a"},{"offset":0.8765,"color":"transparent"},
{"offset":0.882,"color":"transparent"},{"offset":0.882,"color":"#21a"},{"offset":0.8855,"color":"#21a"},{"offset":0.8855,"color":"transparent"},
{"offset":0.891,"color":"transparent"},{"offset":0.891,"color":"#21a"},{"offset":0.8945,"color":"#21a"},{"offset":0.8945,"color":"transparent"},
{"offset":0.9,"color":"transparent"},{"offset":0.9,"color":"#21a"},{"offset":0.9035,"color":"#21a"},{"offset":0.9035,"color":"transparent"},
{"offset":0.909,"color":"transparent"},{"offset":0.909,"color":"#21a"},{"offset":0.9125,"color":"#21a"},{"offset":0.9125,"color":"transparent"},
{"offset":0.918,"color":"transparent"},{"offset":0.918,"color":"#21a"},{"offset":0.9215,"color":"#21a"},{"offset":0.9215,"color":"transparent"},
{"offset":0.927,"color":"transparent"},{"offset":0.927,"color":"#21a"},{"offset":0.9305,"color":"#21a"},{"offset":0.9305,"color":"transparent"},
{"offset":0.936,"color":"transparent"},{"offset":0.936,"color":"#21a"},{"offset":0.9395,"color":"#21a"},{"offset":0.9395,"color":"transparent"},
{"offset":0.945,"color":"transparent"},{"offset":0.945,"color":"#21a"},{"offset":0.9485,"color":"#21a"},{"offset":0.9485,"color":"transparent"},
{"offset":0.954,"color":"transparent"},{"offset":0.954,"color":"#21a"},{"offset":0.9575,"color":"#21a"},{"offset":0.9575,"color":"transparent"},
{"offset":0.963,"color":"transparent"},{"offset":0.963,"color":"#21a"},{"offset":0.9665,"color":"#21a"},{"offset":0.9665,"color":"transparent"},
{"offset":0.972,"color":"transparent"},{"offset":0.972,"color":"#21a"},{"offset":0.9755,"color":"#21a"},{"offset":0.9755,"color":"transparent"},
{"offset":0.981,"color":"transparent"},{"offset":0.981,"color":"#21a"},{"offset":0.9845,"color":"#21a"},{"offset":0.9845,"color":"transparent"},
{"offset":0.99,"color":"transparent"},{"offset":0.99,"color":"#21a"},{"offset":0.9935,"color":"#21a"},{"offset":0.9935,"color":"transparent"}
]}},
 "encoding": {"x": {"field": "x", "type": "quantitative"}, "y": {"field": "hi", "type": "quantitative"}, "y2": {"field": "lo"}}},
{"data": {"name": "red"}, "mark": {"type": "line", "color": "#b11", "strokeWidth": 2.5, "clip": true},
 "encoding": {"x": {"field": "x", "type": "quantitative"}, "y": {"field": "hi", "type": "quantitative"}}},
{"data": {"name": "red"}, "mark": {"type": "line", "color": "#b11", "strokeWidth": 2.5, "clip": true},
 "encoding": {"x": {"field": "x", "type": "quantitative"}, "y": {"field": "lo", "type": "quantitative"}}},
{"data": {"name": "blue"}, "mark": {"type": "line", "color": "#21a", "strokeWidth": 2.5, "clip": true},
 "encoding": {"x": {"field": "x", "type": "quantitative"}, "y": {"field": "hi", "type": "quantitative"}}},
{"data": {"name": "blue"}, "mark": {"type": "line", "color": "#21a", "strokeWidth": 2.5, "clip": true},
 "encoding": {"x": {"field": "x", "type": "quantitative"}, "y": {"field": "lo", "type": "quantitative"}}},
{"data": {"name": "blue"}, "mark": {"type": "line", "color": "#21a", "strokeWidth": 3, "clip": true},
 "encoding": {"x": {"field": "x", "type": "quantitative"}, "y": {"datum": 1}}},
{"data": {"values": [{}]}, "mark": {"type": "rule", "color": "#888", "strokeWidth": 2},
 "encoding": {"y": {"datum": 1.5}}},
{"data": {"values": [{}]}, "mark": {"type": "rect", "fill": {"gradient": "linear", "x1": 0, "y1": 0, "x2": 1, "y2": 0.64, "stops": [
{"offset":0.08,"color":"transparent"},{"offset":0.08,"color":"#b11"},{"offset":0.15,"color":"#b11"},{"offset":0.15,"color":"transparent"},
{"offset":0.28,"color":"transparent"},{"offset":0.28,"color":"#b11"},{"offset":0.35,"color":"#b11"},{"offset":0.35,"color":"transparent"},
{"offset":0.48,"color":"transparent"},{"offset":0.48,"color":"#b11"},{"offset":0.55,"color":"#b11"},{"offset":0.55,"color":"transparent"},
{"offset":0.68,"color":"transparent"},{"offset":0.68,"color":"#b11"},{"offset":0.75,"color":"#b11"},{"offset":0.75,"color":"transparent"},
{"offset":0.88,"color":"transparent"},{"offset":0.88,"color":"#b11"},{"offset":0.95,"color":"#b11"},{"offset":0.95,"color":"transparent"}]}},
 "encoding": {"x": {"datum": 5.977e-5}, "x2": {"datum": 1.295e-4}, "y": {"datum": 1.402}, "y2": {"datum": 1.365}}},
{"data": {"values": [{}]}, "mark": {"type": "rect", "fill": {"gradient": "linear", "x1": 0, "y1": 1, "x2": 1, "y2": 0.36, "stops": [
{"offset":0.08,"color":"transparent"},{"offset":0.08,"color":"#21a"},{"offset":0.15,"color":"#21a"},{"offset":0.15,"color":"transparent"},
{"offset":0.28,"color":"transparent"},{"offset":0.28,"color":"#21a"},{"offset":0.35,"color":"#21a"},{"offset":0.35,"color":"transparent"},
{"offset":0.48,"color":"transparent"},{"offset":0.48,"color":"#21a"},{"offset":0.55,"color":"#21a"},{"offset":0.55,"color":"transparent"},
{"offset":0.68,"color":"transparent"},{"offset":0.68,"color":"#21a"},{"offset":0.75,"color":"#21a"},{"offset":0.75,"color":"transparent"},
{"offset":0.88,"color":"transparent"},{"offset":0.88,"color":"#21a"},{"offset":0.95,"color":"#21a"},{"offset":0.95,"color":"transparent"}]}},
 "encoding": {"x": {"datum": 5.977e-5}, "x2": {"datum": 1.295e-4}, "y": {"datum": 1.345}, "y2": {"datum": 1.308}}},
{"data": {"values": [{}]}, "mark": {"type": "rule", "color": "#b11", "strokeWidth": 2.5},
 "encoding": {"x": {"datum": 5.977e-5}, "x2": {"datum": 1.295e-4}, "y": {"datum": 1.383}}},
{"data": {"values": [{}]}, "mark": {"type": "rule", "color": "#21a", "strokeWidth": 2.5},
 "encoding": {"x": {"datum": 5.977e-5}, "x2": {"datum": 1.295e-4}, "y": {"datum": 1.327}}},
{"data": {"values": [{}]}, "mark": {"type": "text", "text": "Q² = 2.4 GeV²", "align": "left", "baseline": "alphabetic", "font": "Liberation Sans", "fontSize": 29, "fontWeight": "bold", "color": "black"},
 "encoding": {"x": {"datum": 1.578e-4}, "y": {"datum": 1.4211}}},
{"data": {"values": [{}]}, "mark": {"type": "text", "text": "profiled", "align": "left", "baseline": "alphabetic", "font": "Liberation Sans", "fontSize": 29, "fontWeight": "bold", "color": "black"},
 "encoding": {"x": {"datum": 1.578e-4}, "y": {"datum": 1.3705}}},
{"data": {"values": [{}]}, "mark": {"type": "text", "text": "unprofiled", "align": "left", "baseline": "alphabetic", "font": "Liberation Sans", "fontSize": 29, "fontWeight": "bold", "color": "black"},
 "encoding": {"x": {"datum": 1.578e-4}, "y": {"datum": 1.3185}}}
]
}
